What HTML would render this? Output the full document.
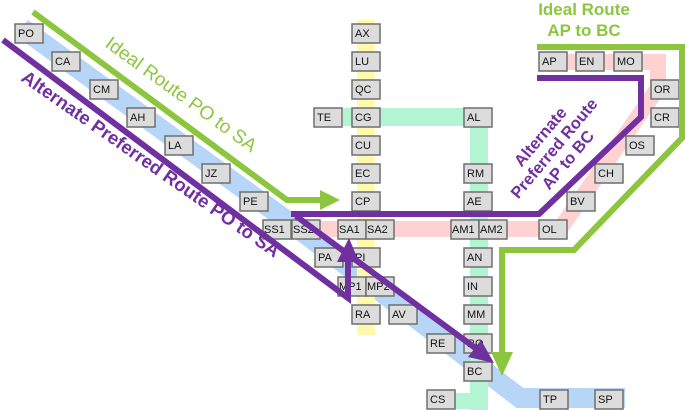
<!DOCTYPE html>
<html><head><style>
html,body{margin:0;padding:0;background:#fff;width:685px;height:410px;overflow:hidden}
svg{display:block}
text{font-family:"Liberation Sans",sans-serif}
.b rect{fill:#dcdcdc;stroke:#6e6e6e;stroke-width:1.5}
.b text{font-size:11px;fill:#111}
</style></head><body>
<svg width="685" height="410" viewBox="0 0 685 410" xmlns="http://www.w3.org/2000/svg">
<g fill="none" stroke-linejoin="miter">
<polyline points="22,28 300,230 520,398 625,398" stroke="#b7d5f7" stroke-width="20"/>
<line x1="366" y1="20" x2="366" y2="335" stroke="#fdfaae" stroke-width="18"/>
<polyline points="343,117 479,117 479,410" stroke="#b3f5d2" stroke-width="18"/>
<line x1="450" y1="401" x2="479" y2="401" stroke="#b3f5d2" stroke-width="16"/>
<polyline points="295,229 560,229 658,88 658,62 540,62" stroke="#ffd2d2" stroke-width="16"/>
</g>
<g class="b">
<g transform="translate(15,24)"><rect width="28" height="19"/><text x="3" y="13">PO</text></g>
<g transform="translate(52,52)"><rect width="28" height="19"/><text x="3" y="13">CA</text></g>
<g transform="translate(90,80)"><rect width="28" height="19"/><text x="3" y="13">CM</text></g>
<g transform="translate(127,108)"><rect width="28" height="19"/><text x="3" y="13">AH</text></g>
<g transform="translate(165,136)"><rect width="28" height="19"/><text x="3" y="13">LA</text></g>
<g transform="translate(202,164)"><rect width="28" height="19"/><text x="3" y="13">JZ</text></g>
<g transform="translate(240,192)"><rect width="28" height="19"/><text x="3" y="13">PE</text></g>
<g transform="translate(263,220)"><rect width="28" height="19"/><text x="1" y="13">SS1</text></g>
<g transform="translate(292,220)"><rect width="28" height="19"/><text x="1" y="13">SS2</text></g>
<g transform="translate(352,24)"><rect width="28" height="19"/><text x="3" y="13">AX</text></g>
<g transform="translate(352,52)"><rect width="28" height="19"/><text x="3" y="13">LU</text></g>
<g transform="translate(352,80)"><rect width="28" height="19"/><text x="3" y="13">QC</text></g>
<g transform="translate(314,108)"><rect width="28" height="19"/><text x="3" y="13">TE</text></g>
<g transform="translate(352,108)"><rect width="28" height="19"/><text x="3" y="13">CG</text></g>
<g transform="translate(352,136)"><rect width="28" height="19"/><text x="3" y="13">CU</text></g>
<g transform="translate(352,164)"><rect width="28" height="19"/><text x="3" y="13">EC</text></g>
<g transform="translate(352,192)"><rect width="28" height="19"/><text x="3" y="13">CP</text></g>
<g transform="translate(338,220)"><rect width="28" height="19"/><text x="1" y="13">SA1</text></g>
<g transform="translate(366,220)"><rect width="28" height="19"/><text x="1" y="13">SA2</text></g>
<g transform="translate(315,248)"><rect width="28" height="19"/><text x="3" y="13">PA</text></g>
<g transform="translate(352,248)"><rect width="28" height="19"/><text x="3" y="13">PI</text></g>
<g transform="translate(338,277)"><rect width="28" height="19"/><text x="1" y="13">MP1</text></g>
<g transform="translate(366,277)"><rect width="28" height="19"/><text x="1" y="13">MP2</text></g>
<g transform="translate(352,305)"><rect width="28" height="19"/><text x="3" y="13">RA</text></g>
<g transform="translate(389,305)"><rect width="28" height="19"/><text x="3" y="13">AV</text></g>
<g transform="translate(427,334)"><rect width="28" height="19"/><text x="3" y="13">RE</text></g>
<g transform="translate(464,108)"><rect width="28" height="19"/><text x="3" y="13">AL</text></g>
<g transform="translate(464,164)"><rect width="28" height="19"/><text x="3" y="13">RM</text></g>
<g transform="translate(464,192)"><rect width="28" height="19"/><text x="3" y="13">AE</text></g>
<g transform="translate(451,220)"><rect width="28" height="19"/><text x="1" y="13">AM1</text></g>
<g transform="translate(479,220)"><rect width="28" height="19"/><text x="1" y="13">AM2</text></g>
<g transform="translate(464,248)"><rect width="28" height="19"/><text x="3" y="13">AN</text></g>
<g transform="translate(464,277)"><rect width="28" height="19"/><text x="3" y="13">IN</text></g>
<g transform="translate(464,305)"><rect width="28" height="19"/><text x="3" y="13">MM</text></g>
<g transform="translate(464,334)"><rect width="28" height="19"/><text x="3" y="13">RO</text></g>
<g transform="translate(464,362)"><rect width="28" height="19"/><text x="3" y="13">BC</text></g>
<g transform="translate(427,390)"><rect width="28" height="19"/><text x="3" y="13">CS</text></g>
<g transform="translate(540,390)"><rect width="28" height="19"/><text x="3" y="13">TP</text></g>
<g transform="translate(595,390)"><rect width="28" height="19"/><text x="3" y="13">SP</text></g>
<g transform="translate(539,52)"><rect width="28" height="19"/><text x="3" y="13">AP</text></g>
<g transform="translate(576,52)"><rect width="28" height="19"/><text x="3" y="13">EN</text></g>
<g transform="translate(614,52)"><rect width="28" height="19"/><text x="3" y="13">MO</text></g>
<g transform="translate(651,80)"><rect width="28" height="19"/><text x="3" y="13">OR</text></g>
<g transform="translate(651,108)"><rect width="28" height="19"/><text x="3" y="13">CR</text></g>
<g transform="translate(626,136)"><rect width="28" height="19"/><text x="3" y="13">OS</text></g>
<g transform="translate(595,164)"><rect width="28" height="19"/><text x="3" y="13">CH</text></g>
<g transform="translate(567,192)"><rect width="28" height="19"/><text x="3" y="13">BV</text></g>
<g transform="translate(539,220)"><rect width="28" height="19"/><text x="3" y="13">OL</text></g>
</g>
<g fill="none" stroke="#8cc63f" stroke-width="6">
<polyline points="33,12 287,200 322,200"/>
<polyline points="537,47 682,47 682,138 574,250 502,250 502,356"/>
</g>
<polygon points="320,190 340,200 320,210" fill="#8cc63f"/>
<polygon points="491,352 513,352 502,376" fill="#8cc63f"/>
<g fill="none" stroke="#7030a0" stroke-width="6">
<polyline points="3,40 348,298 348,255"/>
<polyline points="291,214 539,214 641,117 641,78 537,78"/>
<line x1="296" y1="216" x2="478" y2="350"/>
</g>
<polygon points="337,262 359,262 349,238" fill="#7030a0"/>
<polygon points="468,357 494,363 481,340" fill="#7030a0"/>
<text transform="translate(104,46) rotate(36)" font-size="19" fill="#8cc63f">Ideal Route PO to SA</text>
<text transform="translate(20,80) rotate(35)" font-size="18.5" font-weight="bold" fill="#7030a0">Alternate Preferred Route PO to SA</text>
<text x="584" y="15" font-size="17" font-weight="bold" fill="#8cc63f" text-anchor="middle">Ideal Route</text>
<text x="584" y="36" font-size="17" font-weight="bold" fill="#8cc63f" text-anchor="middle">AP to BC</text>
<g transform="translate(556,150) rotate(-50)" font-size="16.5" font-weight="bold" fill="#7030a0" text-anchor="middle">
<text x="0" y="-15">Alternate</text>
<text x="0" y="3">Preferred Route</text>
<text x="0" y="21">AP to BC</text>
</g>
</svg>
</body></html>
